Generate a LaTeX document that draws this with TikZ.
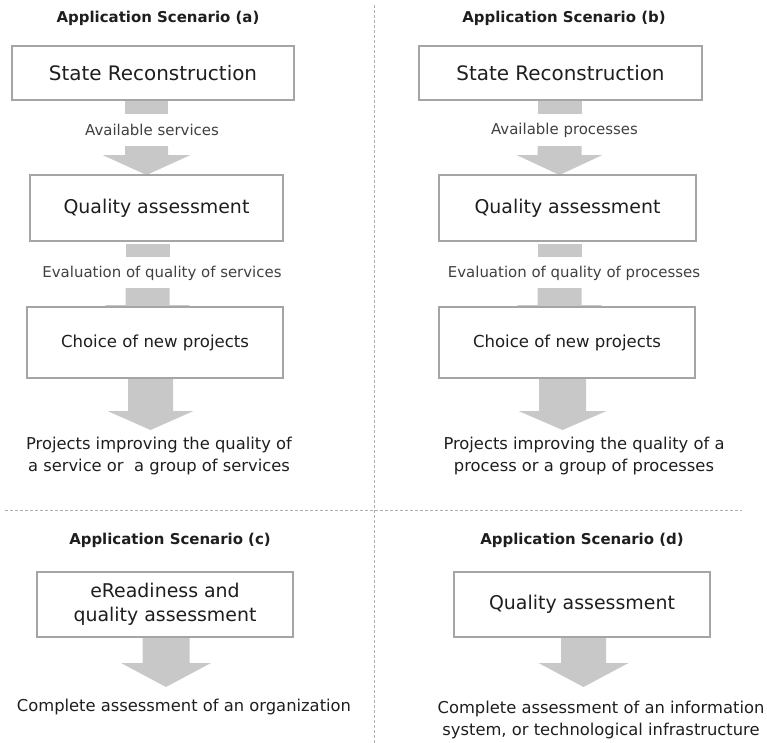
\documentclass[tikz,border=0pt]{standalone}
\usepackage{fontspec}
\setmainfont{DejaVu Sans}
\usetikzlibrary{calc}

\definecolor{boxline}{RGB}{165,165,165}
\definecolor{arrowgray}{RGB}{200,200,200}
\definecolor{ink}{RGB}{30,30,30}
\definecolor{sep}{RGB}{175,175,175}

\tikzset{
  box/.style={draw=boxline, line width=2.8bp, fill=white, inner sep=0pt, text=ink},
  title/.style={font=\fontsize{15}{17}\selectfont\bfseries, text=ink, inner sep=0pt},
  flowlabel/.style={font=\fontsize{15}{18}\selectfont, text=ink!85, inner sep=0pt},
  outcome/.style={font=\fontsize{16.4}{22}\selectfont, text=ink, align=center, inner sep=0pt},
  arrowfill/.style={fill=arrowgray},
  separator/.style={draw=sep, line width=0.8bp, dash pattern=on 3bp off 2bp},
}

% block arrow from (#1) down to the tip (#2): stem half width #3, head half width #4, head length #5
\newcommand\blockarrow[5]{%
  \fill[arrowfill] let \p1=(#1), \p2=(#2) in
    (\x1-#3,\y1) -- (\x1-#3,\y2+#5) -- (\x1-#4,\y2+#5) -- (\x2,\y2)
    -- (\x1+#4,\y2+#5) -- (\x1+#3,\y2+#5) -- (\x1+#3,\y1) -- cycle;}
% plain stem segment from (#1) down to (#2), half width #3
\newcommand\stemonly[3]{%
  \fill[arrowfill] let \p1=(#1), \p2=(#2) in (\x1-#3,\y1) rectangle (\x1+#3,\y2);}

\begin{document}
\begin{tikzpicture}[x=1bp, y=-1bp]
\useasboundingbox (0,0) rectangle (767,743);

% quadrant separators
\coordinate (vtop) at (374,5);
\coordinate (vbot) at (374,743);
\coordinate (hleft) at (5,510);
\coordinate (hright) at (742,510);
\draw[separator] (vtop) -- (vbot);
\draw[separator] (hleft) -- (hright);

% ---------- arrow columns (drawn first, boxes cover the tips) ----------
% scenario (a)
\coordinate (a1s) at (146.5,100);  \coordinate (a1e) at (146.5,114);
\coordinate (a2s) at (146.5,146);  \coordinate (a2e) at (146.5,175);
\coordinate (a3s) at (147.5,244);  \coordinate (a3e) at (147.5,257);
\coordinate (a4s) at (147.5,288);  \coordinate (a4e) at (147.5,325);
\coordinate (a5s) at (150.5,378);  \coordinate (a5e) at (150.5,430);
\stemonly{a1s}{a1e}{21.5bp}
\blockarrow{a2s}{a2e}{21.5bp}{44bp}{20bp}
\stemonly{a3s}{a3e}{22bp}
\blockarrow{a4s}{a4e}{22bp}{43bp}{20bp}
\blockarrow{a5s}{a5e}{22.5bp}{43bp}{19bp}

% scenario (b)
\coordinate (b1s) at (559.5,100);  \coordinate (b1e) at (559.5,114);
\coordinate (b2s) at (559.5,146);  \coordinate (b2e) at (559.5,175);
\coordinate (b3s) at (559.5,244);  \coordinate (b3e) at (559.5,257);
\coordinate (b4s) at (559.5,288);  \coordinate (b4e) at (559.5,325);
\coordinate (b5s) at (562.5,378);  \coordinate (b5e) at (562.5,430);
\stemonly{b1s}{b1e}{22bp}
\blockarrow{b2s}{b2e}{22bp}{43bp}{20bp}
\stemonly{b3s}{b3e}{22bp}
\blockarrow{b4s}{b4e}{22bp}{43bp}{20bp}
\blockarrow{b5s}{b5e}{23.5bp}{44bp}{19bp}

% scenario (c)
\coordinate (c1s) at (166,637);  \coordinate (c1e) at (166,687);
\blockarrow{c1s}{c1e}{23.5bp}{45bp}{24bp}

% scenario (d)
\coordinate (d1s) at (583.5,637);  \coordinate (d1e) at (583.5,687);
\blockarrow{d1s}{d1e}{22.5bp}{45bp}{24bp}

% ---------- scenario (a) ----------
\node[title] (ta) at (158,18) {Application Scenario (a)};
\node[box, minimum width=282bp, minimum height=54bp,
      font=\fontsize{20}{22}\selectfont] (a1) at (153,73) {State Reconstruction};
\node[flowlabel] (la1) at (152,130) {Available services};
\node[box, minimum width=253bp, minimum height=66bp,
      font=\fontsize{19}{22}\selectfont] (a2) at (156.5,208) {Quality assessment};
\node[flowlabel] (la2) at (162,273) {Evaluation of quality of services};
\node[box, minimum width=256bp, minimum height=71bp,
      font=\fontsize{16.6}{20}\selectfont] (a3) at (155,342.5) {Choice of new projects};
\node[outcome] (oa) at (159,456) {Projects improving the quality of\\a service or\ \ a group of services};

% ---------- scenario (b) ----------
\node[title] (tb) at (564,18) {Application Scenario (b)};
\node[box, minimum width=283bp, minimum height=54bp,
      font=\fontsize{20}{22}\selectfont] (b1) at (560.5,73) {State Reconstruction};
\node[flowlabel] (lb1) at (564.5,130) {Available processes};
\node[box, minimum width=257bp, minimum height=66bp,
      font=\fontsize{19}{22}\selectfont] (b2) at (567.5,208) {Quality assessment};
\node[flowlabel] (lb2) at (574,273) {Evaluation of quality of processes};
\node[box, minimum width=256bp, minimum height=71bp,
      font=\fontsize{16.6}{20}\selectfont] (b3) at (567,342.5) {Choice of new projects};
\node[outcome] (ob) at (584,456) {Projects improving the quality of a\\process or a group of processes};

% ---------- scenario (c) ----------
\node[title] (tc) at (170,540) {Application Scenario (c)};
\node[box, minimum width=256bp, minimum height=65bp, align=center,
      font=\fontsize{19}{24}\selectfont] (c1) at (165,604.5) {eReadiness and\\quality assessment};
\node[outcome] (oc) at (184,707) {Complete assessment of an organization};

% ---------- scenario (d) ----------
\node[title] (td) at (582,540) {Application Scenario (d)};
\node[box, minimum width=256bp, minimum height=65bp,
      font=\fontsize{19}{22}\selectfont] (d1) at (582,604.5) {Quality assessment};
\node[outcome] (od) at (601,720) {Complete assessment of an information\\system, or technological infrastructure};

\end{tikzpicture}
\end{document}
